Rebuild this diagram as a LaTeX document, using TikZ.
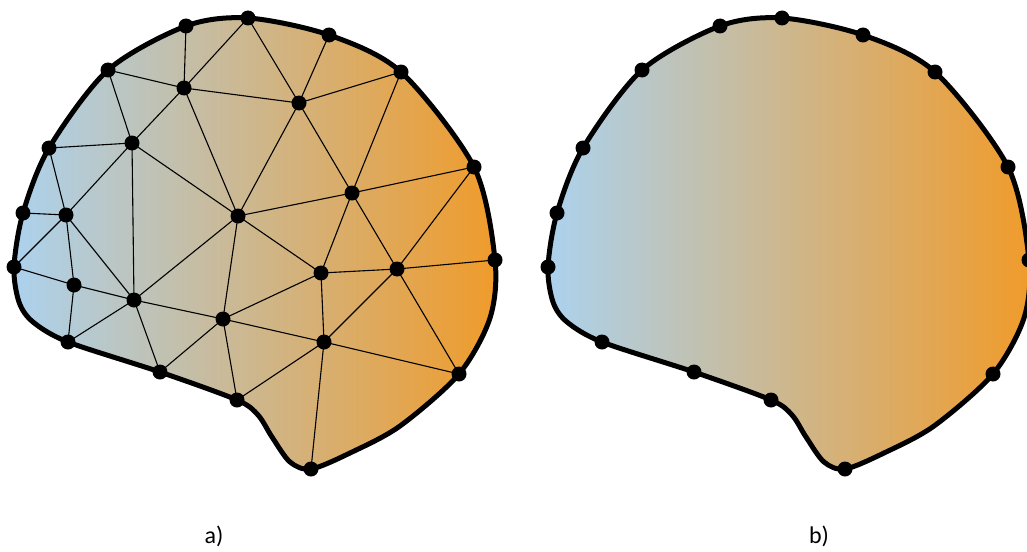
\documentclass[tikz,border=0pt]{standalone}
\usepackage{fontspec}
\setsansfont{Carlito}
\definecolor{cblue}{RGB}{172,210,238}
\definecolor{corange}{RGB}{240,155,42}
\newcommand\brainfill{\shade[left color=cblue,right color=corange]
  plot[smooth cycle,tension=0.5] coordinates {(248,18) (329,35) (401,72) (474,167) (495,260) (490,318) (459,374) (400,426) (350,453) (311,469) (290,462) (272,437) (258,415) (237,400) (160,372) (68,342) (33,322) (19,302) (14,267) (23,213) (49,148) (108,70) (186,26)};}
\newcommand\brainrim{\draw[rim]
  plot[smooth cycle,tension=0.5] coordinates {(248,18) (329,35) (401,72) (474,167) (495,260) (490,318) (459,374) (400,426) (350,453) (311,469) (290,462) (272,437) (258,415) (237,400) (160,372) (68,342) (33,322) (19,302) (14,267) (23,213) (49,148) (108,70) (186,26)};}
\begin{document}
\begin{tikzpicture}[x=1pt,y=-1pt,
  dot/.style={circle,fill=black,inner sep=0pt,minimum size=15pt},
  mesh/.style={line width=1.1pt,black},
  rim/.style={line width=5pt,black,line join=round},
  lbl/.style={font=\fontsize{24}{28}\selectfont\sffamily}]
\useasboundingbox (0,0) rectangle (1027,551);
% ---------- a) ----------
\begin{scope}
\brainfill
\coordinate (B1) at (248,18);  \coordinate (B2) at (329,35);
\coordinate (B3) at (401,72);  \coordinate (B4) at (474,167);
\coordinate (B5) at (495,260); \coordinate (B6) at (459,374);
\coordinate (B7) at (311,469); \coordinate (B8) at (237,400);
\coordinate (B9) at (160,372); \coordinate (B10) at (68,342);
\coordinate (B11) at (14,267); \coordinate (B12) at (23,213);
\coordinate (B13) at (49,148); \coordinate (B14) at (108,70);
\coordinate (B15) at (186,26);
\coordinate (I1) at (184,88);  \coordinate (I2) at (299,103);
\coordinate (I3) at (132,143); \coordinate (I4) at (66,215);
\coordinate (I5) at (238,216); \coordinate (I6) at (352,193);
\coordinate (I7) at (74,285);  \coordinate (I8) at (134,300);
\coordinate (I9) at (321,273); \coordinate (I10) at (397,269);
\coordinate (I11) at (223,319); \coordinate (I12) at (324,342);
\foreach \u/\v in {B15/I1,B1/I1,B1/I2,B14/I1,B14/I3,I1/I3,I1/I2,I1/I5,
  B13/I3,B13/I4,I3/I4,I3/I5,I3/I8,B12/I4,I4/B11,I4/I7,I4/I8,I5/I2,I5/I11,
  I5/I8,I5/I6,I5/I9,B2/I2,B3/I2,B3/I6,I2/I6,B4/I6,B4/I10,I6/I10,I6/I9,
  I9/I10,I10/B5,I9/I12,I10/I12,I10/B6,I12/B6,I12/B7,I12/B8,I11/I9,I11/I12,
  B11/I7,I7/I8,I7/B10,I8/B10,I8/B9,I8/I11,I11/B9,I11/B8}
  \draw[mesh] (\u) -- (\v);
\brainrim
\foreach \p in {B1,B2,B3,B4,B5,B6,B7,B8,B9,B10,B11,B12,B13,B14,B15,
  I1,I2,I3,I4,I5,I6,I7,I8,I9,I10,I11,I12}
  \node[dot] (d\p) at (\p) {};
\end{scope}
% ---------- b) ----------
\begin{scope}[xshift=534pt]
\brainfill
\brainrim
\foreach \n/\x/\y in {1/248/18,2/329/35,3/401/72,4/474/167,5/495/260,
  6/459/374,7/311/469,8/237/400,9/160/372,10/68/342,11/14/267,12/23/213,
  13/49/148,14/108/70,15/186/26}
  \node[dot] (bB\n) at (\x,\y) {};
\end{scope}
\node[lbl] (la) at (214,536) {a)};
\node[lbl] (lb) at (819,536) {b)};
\end{tikzpicture}
\end{document}
